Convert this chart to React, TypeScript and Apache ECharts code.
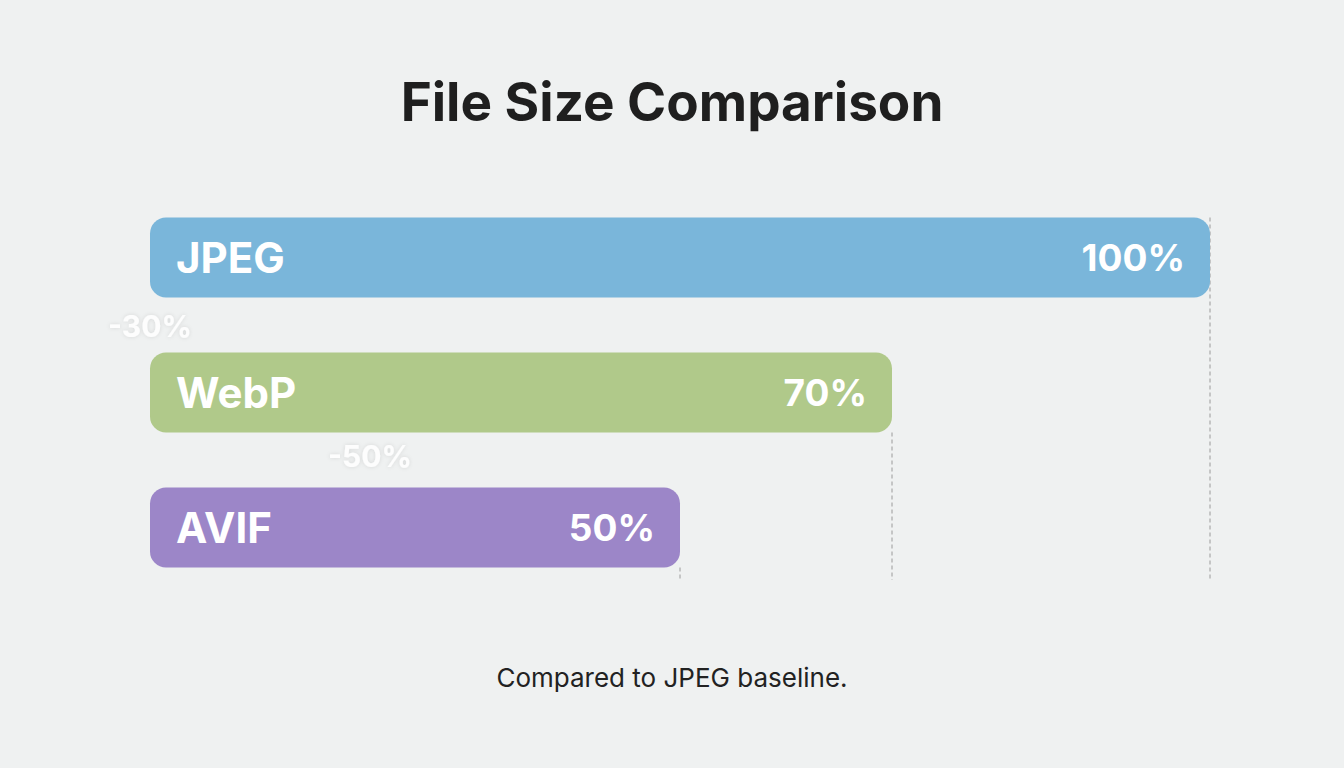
import React, { useEffect, useRef } from "react";
import * as echarts from "echarts";

const categories = ["JPEG", "WebP", "AVIF"];
const sizes = [100, 70, 50];
const colors = ["#7ab6da", "#b0c98a", "#9c86c8"];
const reductionLabels = ["-30%", "-50%"];
const title = "File Size Comparison";
const subtitle = "Compared to JPEG baseline.";

export default function App() {
  const ref = useRef<HTMLDivElement>(null);
  useEffect(() => {
    if (!ref.current) return;
    const chart = echarts.init(ref.current, undefined, { renderer: "svg" });
    const font = "Inter, 'Liberation Sans', Arial, sans-serif";
    const reductionStyle = {
      fontFamily: font,
      fontSize: 30,
      fontWeight: "bold",
      fill: "rgba(255,255,255,0.9)",
      textShadowColor: "rgba(0,0,0,0.12)",
      textShadowBlur: 4,
    };
    chart.setOption({
      animation: false,
      backgroundColor: "#eff1f1",
      title: [
        {
          text: title,
          left: "center",
          top: 70,
          textStyle: { fontFamily: font, fontSize: 53, fontWeight: "bold", color: "#1f1f1f" },
        },
        {
          text: subtitle,
          left: "center",
          top: 659,
          textStyle: { fontFamily: font, fontSize: 26, fontWeight: "normal", color: "#222" },
        },
      ],
      grid: { left: 150, right: 134, top: 190, height: 405, containLabel: false },
      xAxis: { type: "value", min: 0, max: 100, show: false },
      yAxis: { type: "category", data: categories, inverse: true, show: false },
      graphic: [
        { type: "text", left: 108, top: 311, style: { text: reductionLabels[0], ...reductionStyle } },
        { type: "text", left: 328, top: 441, style: { text: reductionLabels[1], ...reductionStyle } },
      ],
      series: [
        {
          type: "custom",
          z: 1,
          silent: true,
          data: sizes.map((v, i) => [v, i]),
          encode: { x: 0, y: 1 },
          renderItem: (params: any, api: any) => {
            const v = api.value(0);
            const ci = api.value(1);
            const p = api.coord([v, ci]);
            const half = 40;
            const y1 = ci === 0 ? p[1] - half : p[1] + half;
            const y2 = params.coordSys.y + params.coordSys.height - 15;
            return {
              type: "line",
              shape: { x1: p[0], y1, x2: p[0], y2 },
              style: { stroke: "#9a9a9a", lineWidth: 1, lineDash: [4, 3] },
            };
          },
        },
        {
          type: "bar",
          z: 2,
          barWidth: 80,
          data: sizes.map((v, i) => ({ value: v, itemStyle: { color: colors[i] } })),
          itemStyle: { borderRadius: 16 },
          label: {
            show: true,
            position: "insideLeft",
            distance: 26,
            formatter: "{b}",
            fontFamily: font,
            fontSize: 42,
            fontWeight: "bold",
            color: "#fff",
          },
        },
        {
          type: "bar",
          z: 3,
          barWidth: 80,
          barGap: "-100%",
          silent: true,
          data: sizes,
          itemStyle: { color: "transparent" },
          label: {
            show: true,
            position: "insideRight",
            distance: 25,
            formatter: (p: any) => p.value + "%",
            fontFamily: font,
            fontSize: 37,
            fontWeight: "bold",
            color: "#fff",
          },
        },
      ],
    });
    return () => chart.dispose();
  }, []);
  return (
    <div
      ref={ref}
      style={{ position: "fixed", left: 0, top: 0, width: 1344, height: 768 }}
    />
  );
}
